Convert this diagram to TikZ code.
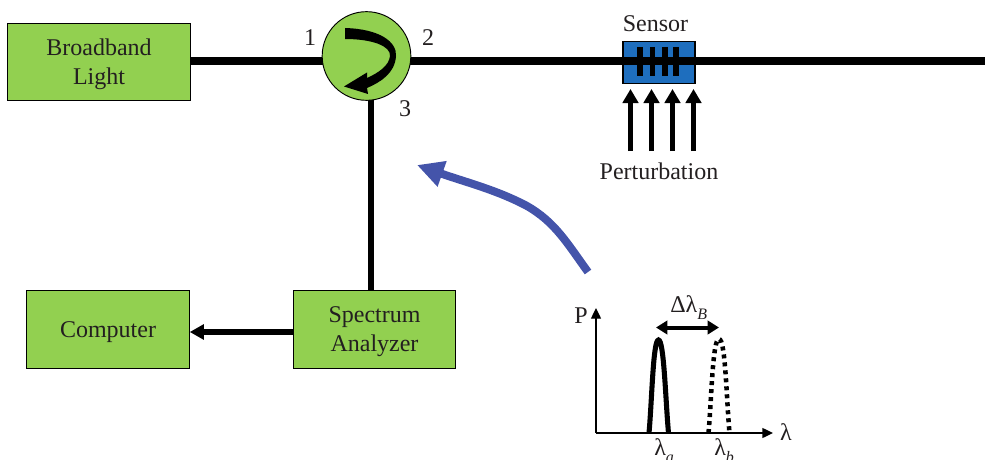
\documentclass[tikz,border=0pt]{standalone}
\usepackage{fontspec}
\setmainfont{Liberation Serif}
\usetikzlibrary{arrows.meta,positioning}
\definecolor{boxgreen}{RGB}{146,208,80}
\definecolor{sensorblue}{RGB}{30,110,190}
\definecolor{bluearrow}{RGB}{68,84,170}
\definecolor{txt}{RGB}{35,31,32}
\newcommand{\lam}{λ}
\newcommand{\lsub}[1]{\raisebox{-5.5pt}{\fontsize{12}{12}\selectfont\textit{#1}}}
\newcommand{\boxtext}[1]{\raisebox{0pt}[\dimexpr\height+3pt\relax]{\begin{tabular}{@{}c@{}}#1\end{tabular}}}
\tikzset{
  x=0.75pt,y=-0.75pt,
  gbox/.style={draw=black,line width=0.7pt,fill=boxgreen,text=txt,font=\fontsize{18}{21.75}\selectfont,inner sep=0pt},
  fiber/.style={line width=6pt,draw=black},
  lbl/.style={font=\fontsize{18}{20}\selectfont,inner sep=0pt,text=txt},
  pert/.style={line width=3.7pt,-{Triangle[length=10.5pt,width=11.5pt]}},
  axis/.style={line width=1pt,-{Triangle[length=8pt,width=7.5pt]}},
}
\begin{document}
\begin{tikzpicture}
\useasboundingbox (0,0) rectangle (985,460);
\clip (0,0) rectangle (985,460);
% nodes
\coordinate (f) at (0,61);
\coordinate (v) at (371,98);
\node[gbox,minimum width=137.5pt,minimum height=58pt,yshift=-1.5pt] (bb) at (99,60) {\boxtext{Broadband\\Light}};
\node[gbox,minimum width=122pt,minimum height=59pt] (sa) at (374.5,329.5) {\boxtext{Spectrum\\Analyzer}};
\node[gbox,minimum width=122pt,minimum height=59pt] (comp) at (108,329.5) {\boxtext{Computer}};
\coordinate (fend) at (985,61);
\coordinate (ae) at (comp.east|-{0,332});
% fibres
\draw[fiber] (bb.east|-f) -- (367,61) -- (fend);
\draw[line width=4.2pt] (v) -- (v|-sa.north);
\draw[line width=3.9pt,-{Triangle[length=10.5pt,width=11pt]}] (sa.west|-ae) -- (ae);
\node[gbox,circle,minimum size=66.5pt] (circ) at (366.5,56) {};
% sensor
\node[draw=black,line width=0.8pt,fill=sensorblue,minimum width=54pt,minimum height=31pt,inner sep=0pt] (sensor) at (659,62.5) {};
\draw[fiber] (sensor.west|-f) -- (sensor.east|-f);
\foreach \x [count=\i] in {640,652.5,665,676}{
  \coordinate (gt\i) at (\x,47);
  \coordinate (gb\i) at (\x,76);
  \draw[line width=3.8pt] (gt\i) -- (gb\i);
}
% circulator arrow
\fill (345,28) .. controls (380,29) and (397,42) .. (396,56)
 .. controls (395,73) and (381,82) .. (367,88)
 -- (368,94) -- (344,86.5) -- (367,72.5) -- (367,78)
 .. controls (378,73) and (389,66) .. (390,56)
 .. controls (391,46) and (372,39) .. (345,39) -- cycle;
% perturbation arrows
\foreach \x [count=\i] in {630.5,651.5,672.5,693.5}{
  \coordinate (ps\i) at (\x,151);
  \coordinate (pe\i) at (\x,89);
  \draw[pert] (ps\i) -- (pe\i);
}
% labels
\node[lbl] (l1) at (310,38) {1};
\node[lbl] (l2) at (428,38) {2};
\node[lbl] (l3) at (405,109) {3};
\node[lbl] (sl) at (655.5,24) {Sensor};
\node[lbl] (pl) at (659,171) {Perturbation};
% blue arrow
\coordinate (bs) at (588,272);
\coordinate (be) at (417,165);
\draw[bluearrow,line width=6pt,-{Triangle[length=20pt,width=19pt]}] (bs) .. controls (567,243) and (555,222) .. (527,206) .. controls (497,190) and (465,182) .. (be);
% graph
\coordinate (org) at (596,433);
\coordinate (ytop) at (596,308);
\coordinate (xend) at (773,433);
\draw[axis] (org) -- (ytop);
\draw[axis] (org) -- (xend);
\node[lbl] (pp) at (581,316) {P};
\node[lbl] (xl) at (786,432) {\lam};
\draw[line width=3.8pt] (649,433) .. controls (652,400) and (653,340) .. (658.5,340) .. controls (664,340) and (665.5,400) .. (668.5,433);
\draw[line width=3.4pt,dash pattern=on 3pt off 3pt] (708.5,433) .. controls (711.5,400) and (712.5,339) .. (719,339) .. controls (725.5,339) and (726.5,400) .. (729.5,433);
\coordinate (da) at (656,327.5);
\coordinate (db) at (719,327.5);
\draw[line width=3pt,{Triangle[length=8.5pt,width=10pt]}-{Triangle[length=8.5pt,width=10pt]}] (da) -- (db);
\node[lbl,anchor=base west] (dl) at (670,312) {Δ\lam\lsub{B}};
\node[lbl,anchor=base west] (la) at (654,455) {\lam\lsub{a}};
\node[lbl,anchor=base west] (lb) at (714,455) {\lam\lsub{b}};
\end{tikzpicture}
\end{document}
